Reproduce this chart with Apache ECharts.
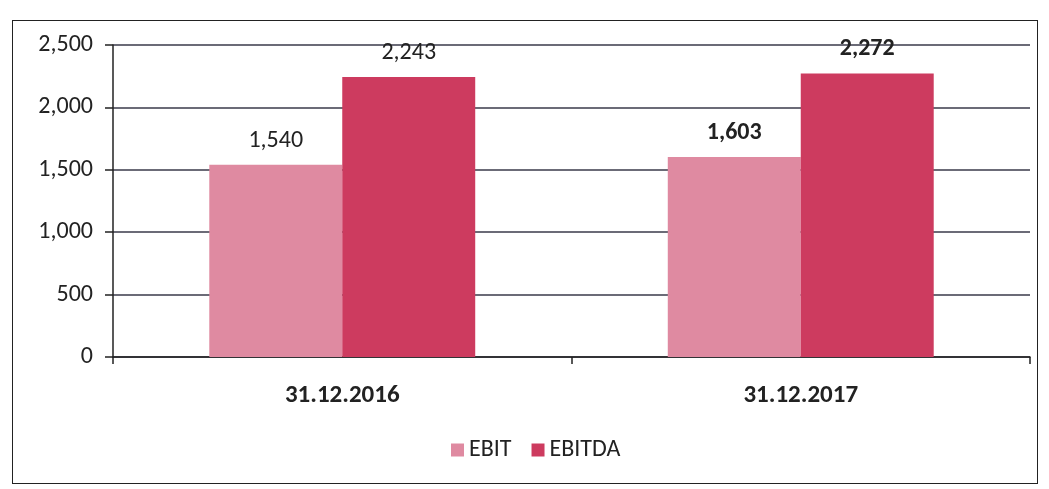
<!DOCTYPE html>
<html>
<head>
<meta charset="utf-8">
<script src="https://cdn.jsdelivr.net/npm/echarts@6/dist/echarts.min.js"></script>
<style>
  html, body { margin: 0; padding: 0; background: #fff; }
  #frame {
    position: absolute; left: 12px; top: 20px; width: 1026px; height: 464px;
    border: 1.5px solid #222; box-sizing: border-box;
  }
  #chart { position: absolute; left: 0; top: 0; width: 1049px; height: 489px; }
</style>
</head>
<body>
<div id="frame"></div>
<div id="chart"></div>
<script>
// data
const categories = ['31.12.2016', '31.12.2017']
const ebit = [1540, 1603]
const ebitda = [2243, 2272]
const yTicks = { min: 0, max: 2500, interval: 500 }

const font = "Carlito, Lato, 'Open Sans', sans-serif"

const chart = echarts.init(document.getElementById('chart'), null, { renderer: 'canvas' })

const valueLabel = {
  show: true,
  position: 'top',
  distance: 12,
  fontFamily: font,
  fontSize: 24,
  color: '#222',
  formatter: (p) => p.value.toLocaleString('en-US'),
}

chart.setOption({
  animation: false,
  grid: { left: 113, right: 19, top: 45, bottom: 132 },
  legend: {
    bottom: 22,
    left: 446,
    itemWidth: 13,
    itemHeight: 13,
    itemGap: 20,
    icon: 'rect',
    textStyle: { fontFamily: font, fontSize: 24, color: '#222' },
    data: ['EBIT', 'EBITDA'],
  },
  xAxis: {
    type: 'category',
    data: categories,
    axisLine: { lineStyle: { color: '#222', width: 1.5 } },
    axisTick: { show: true, length: 7, lineStyle: { color: '#222', width: 1.5 } },
    axisLabel: { fontFamily: font, fontSize: 25, fontWeight: 'bold', color: '#222', margin: 26 },
  },
  yAxis: {
    type: 'value',
    min: yTicks.min,
    max: yTicks.max,
    interval: yTicks.interval,
    axisLine: { show: true, lineStyle: { color: '#222', width: 1.5 } },
    axisTick: { show: true, length: 8, lineStyle: { color: '#222', width: 1.5 } },
    axisLabel: {
      fontFamily: font, fontSize: 24, color: '#222', margin: 20,
      formatter: (v) => v.toLocaleString('en-US'),
    },
    splitLine: { lineStyle: { color: '#3a3a4a', width: 1.5 } },
  },
  series: [
    {
      name: 'EBIT',
      type: 'bar',
      data: [ebit[0], { value: ebit[1], label: { fontWeight: 'bold' } }],
      barGap: '0%',
      barCategoryGap: '42%',
      itemStyle: { color: '#df8aa1' },
      label: valueLabel,
    },
    {
      name: 'EBITDA',
      type: 'bar',
      data: [ebitda[0], { value: ebitda[1], label: { fontWeight: 'bold' } }],
      itemStyle: { color: '#cd3b5f' },
      label: valueLabel,
    },
  ],
})
</script>
</body>
</html>
